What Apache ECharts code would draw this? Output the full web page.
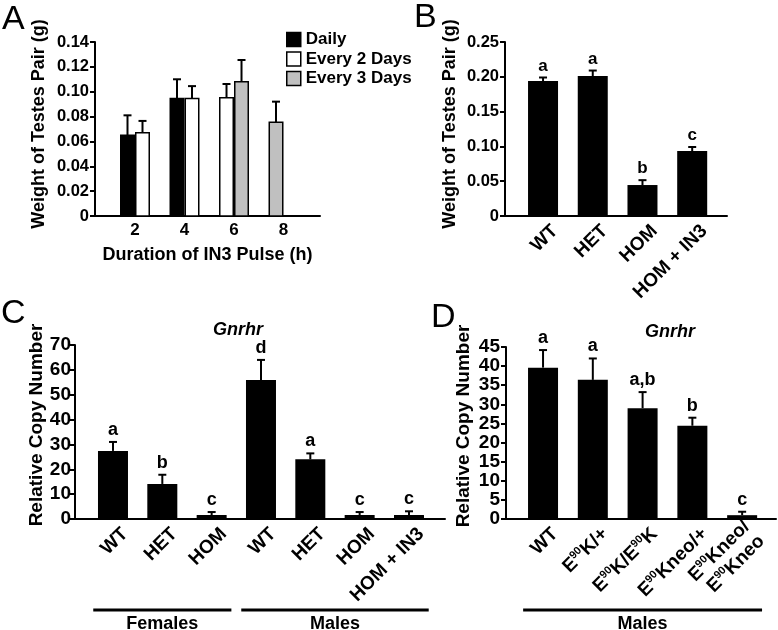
<!DOCTYPE html>
<html><head><meta charset="utf-8">
<script src="https://cdn.jsdelivr.net/npm/echarts@6/dist/echarts.min.js"></script>
<style>html,body{margin:0;padding:0;background:#fff}#c{width:778px;height:630px}</style>
</head><body><div id="c"></div>
<script>
// ---------- Panel A ----------
const aCategories = ['2', '4', '6', '8'];
const aSeriesNames = ['Daily', 'Every 2 Days', 'Every 3 Days'];
const aDaily = [0.065, 0.0945, null, null];
const aDailyErr = [0.016, 0.0155, null, null];
const aEvery2 = [0.067, 0.0945, 0.0952, null];
const aEvery2Err = [0.0095, 0.010, 0.011, null];
const aEvery3 = [null, null, 0.108, 0.0754];
const aEvery3Err = [null, null, 0.0175, 0.0166];
// ---------- Panel B ----------
const bCategories = ['WT', 'HET', 'HOM', 'HOM + IN3'];
const bValues = [0.194, 0.201, 0.0445, 0.0934];
const bErrors = [0.005, 0.008, 0.007, 0.0057];
const bLetters = ['a', 'a', 'b', 'c'];
// ---------- Panel C ----------
const cCategories = ['WT', 'HET', 'HOM', 'WT', 'HET', 'HOM', 'HOM + IN3'];
const cValues = [27.4, 14.1, 1.6, 55.9, 24.0, 1.6, 1.6];
const cErrors = [3.6, 3.7, 1.2, 8.1, 2.4, 1.2, 1.5];
const cLetters = ['a', 'b', 'c', 'd', 'a', 'c', 'c'];
const cGroups = [['Females', 0, 2], ['Males', 3, 6]];
// ---------- Panel D ----------
const dCategories = ['WT', 'E90K/+', 'E90K/E90K', 'E90Kneo/+', 'E90Kneo/\nE90Kneo'];
const dValues = [39.6, 36.4, 29.0, 24.4, 1.0];
const dErrors = [4.6, 5.6, 4.2, 2.1, 0.9];
const dLetters = ['a', 'a', 'a,b', 'b', 'c'];
const dGroups = [['Males', 0, 4]];

const FONT = "'Liberation Sans', Arial, Helvetica, sans-serif";
const chart = echarts.init(document.getElementById('c'), null, {renderer: 'canvas'});

const aSeriesVals = [aDaily, aEvery2, aEvery3];
const aSeriesErrs = [aDailyErr, aEvery2Err, aEvery3Err];
const aColors = ['#000000', '#ffffff', '#c0c0c0'];
const A_BAR_W = 15;

function yAxis(gridIndex, max, interval, decimals, fontSize, name, nameGap, namePad, margin) {
  return {
    type: 'value', gridIndex, min: 0, max, interval,
    name, nameLocation: 'middle', nameGap, nameRotate: 90,
    nameTextStyle: {fontFamily: FONT, fontWeight: 'bold', fontSize, color: '#000', padding: [0, 0, 0, namePad]},
    axisLine: {show: true, onZero: false, lineStyle: {color: '#000', width: 2}},
    axisTick: {show: true, length: 5, lineStyle: {color: '#000', width: 2}},
    splitLine: {show: false},
    axisLabel: {
      margin, color: '#000', fontFamily: FONT, fontWeight: 'bold', fontSize: fontSize === 19 ? 19 : 16.5,
      formatter: v => (v === 0 ? '0' : v.toFixed(decimals))
    }
  };
}

function rotatedX(gridIndex, min, max, cats, spacing, rich, fmt) {
  const shift = 12 / spacing;
  return {
    type: 'value', gridIndex, min, max,
    axisLine: {show: true, onZero: false, lineStyle: {color: '#000', width: 2}},
    axisTick: {show: false}, splitLine: {show: false},
    axisLabel: {
      customValues: cats.map((_, i) => i + shift),
      rotate: 45, margin: 12, color: '#000', fontFamily: FONT, fontWeight: 'bold', fontSize: 19,
      formatter: v => fmt(cats[Math.round(v - shift)]),
      rich: rich
    }
  };
}

function errRender(letters, capW, fontSize) {
  return function (params, api) {
    const i = api.value(0), v = api.value(1), e = api.value(2);
    const base = api.coord([i, v]);
    const top = api.coord([i, v + e]);
    const ch = [
      {type: 'line', shape: {x1: base[0], y1: base[1], x2: top[0], y2: top[1]}, style: {stroke: '#000', lineWidth: 2}},
      {type: 'line', shape: {x1: top[0] - capW / 2, y1: top[1], x2: top[0] + capW / 2, y2: top[1]}, style: {stroke: '#000', lineWidth: 2}}
    ];
    ch.push({type: 'text', x: top[0], y: top[1] - 3, style: {
      text: letters[params.dataIndex], fill: '#000', align: 'center', verticalAlign: 'bottom',
      font: 'bold ' + fontSize + 'px ' + FONT}});
    return {type: 'group', children: ch};
  };
}

// Panel A custom bars (data-driven positions through axis coords)
const aSeries = aSeriesNames.map((name, s) => {
  const data = [];
  aCategories.forEach((c, i) => {
    if (aSeriesVals[s][i] == null) return;
    let slot = 0;
    for (let k = 0; k < s; k++) if (aSeriesVals[k][i] != null) slot++;
    data.push([i, aSeriesVals[s][i], aSeriesErrs[s][i], slot]);
  });
  return {
    type: 'custom', name, xAxisIndex: 0, yAxisIndex: 0, data,
    itemStyle: {color: aColors[s], borderColor: '#000', borderWidth: 1.5},
    encode: {x: 0, y: 1},
    renderItem: function (params, api) {
      const i = api.value(0), v = api.value(1), e = api.value(2), slot = api.value(3);
      const c = api.coord([i, v]);
      const z = api.coord([i, 0]);
      const top = api.coord([i, v + e]);
      const left = c[0] - A_BAR_W + slot * A_BAR_W;
      const cx = left + A_BAR_W / 2;
      return {type: 'group', children: [
        {type: 'rect', shape: {x: left + 0.75, y: c[1], width: A_BAR_W - 1.5, height: z[1] - c[1]},
          style: {fill: aColors[s], stroke: '#000', lineWidth: 1.5}},
        {type: 'line', shape: {x1: cx, y1: c[1], x2: cx, y2: top[1]}, style: {stroke: '#000', lineWidth: 2}},
        {type: 'line', shape: {x1: cx - 4, y1: top[1], x2: cx + 4, y2: top[1]}, style: {stroke: '#000', lineWidth: 2}}
      ]};
    }
  };
});

const sup = s => s.split('\n').map(line => line.split('90').map(p => p ? '{n|' + p + '}' : '').join('{s|90}')).join('\n');
const dRich = {
  n: {fontFamily: FONT, fontWeight: 'bold', fontSize: 19, color: '#000', lineHeight: 21},
  s: {fontFamily: FONT, fontWeight: 'bold', fontSize: 11, color: '#000', lineHeight: 11, verticalAlign: 'top'}
};

const option = {
  animation: false,
  backgroundColor: '#fff',
  textStyle: {fontFamily: FONT},
  grid: [
    {left: 95, top: 42, width: 225, height: 174},
    {left: 505, top: 42, width: 222, height: 174},
    {left: 75, top: 345, width: 370, height: 174},
    {left: 506, top: 347, width: 270, height: 172}
  ],
  legend: {
    left: 286, top: 31, orient: 'vertical', icon: 'rect', itemWidth: 14, itemHeight: 14, itemGap: 2.5,
    padding: 0, selectedMode: false,
    textStyle: {fontFamily: FONT, fontWeight: 'bold', fontSize: 17, color: '#000', lineHeight: 17},
    data: aSeriesNames.map((n, s) => ({name: n, itemStyle: {color: aColors[s], borderColor: '#000', borderWidth: 1.5}}))
  },
  xAxis: [
    {
      type: 'value', gridIndex: 0, min: -0.808, max: 3.737,
      name: 'Duration of IN3 Pulse (h)', nameLocation: 'middle', nameGap: 30,
      nameTextStyle: {fontFamily: FONT, fontWeight: 'bold', fontSize: 18, color: '#000'},
      axisLine: {show: true, onZero: false, lineStyle: {color: '#000', width: 2}},
      axisTick: {show: false}, splitLine: {show: false},
      axisLabel: {customValues: aCategories.map((_, i) => i), margin: 6, color: '#000',
        fontFamily: FONT, fontWeight: 'bold', fontSize: 17, formatter: v => aCategories[Math.round(v)]}
    },
    rotatedX(1, -0.765, 3.70, bCategories, 49.7, null, s => s),
    rotatedX(2, -0.770, 6.73, cCategories, 49.33, null, s => s),
    rotatedX(3, -0.744, 4.68, dCategories, 49.75, dRich, sup)
  ],
  yAxis: [
    yAxis(0, 0.14, 0.02, 2, 18, 'Weight of Testes Pair (g)', 47, 10, 6),
    yAxis(1, 0.25, 0.05, 2, 18, 'Weight of Testes Pair (g)', 46, 10, 6),
    yAxis(2, 70, 10, 0, 19, 'Relative Copy Number', 28, 14, 4),
    yAxis(3, 45, 5, 0, 19, 'Relative Copy Number', 33, 14, 6)
  ],
  series: [
    ...aSeries,
    {type: 'bar', xAxisIndex: 1, yAxisIndex: 1, barWidth: 30, itemStyle: {color: '#000'},
      data: bValues.map((v, i) => [i, v])},
    {type: 'custom', xAxisIndex: 1, yAxisIndex: 1, renderItem: errRender(bLetters, 8, 17),
      data: bValues.map((v, i) => [i, v, bErrors[i]])},
    {type: 'bar', xAxisIndex: 2, yAxisIndex: 2, barWidth: 30, itemStyle: {color: '#000'},
      data: cValues.map((v, i) => [i, v])},
    {type: 'custom', xAxisIndex: 2, yAxisIndex: 2, renderItem: errRender(cLetters, 8, 18),
      data: cValues.map((v, i) => [i, v, cErrors[i]])},
    {type: 'bar', xAxisIndex: 3, yAxisIndex: 3, barWidth: 30, itemStyle: {color: '#000'},
      data: dValues.map((v, i) => [i, v])},
    {type: 'custom', xAxisIndex: 3, yAxisIndex: 3, renderItem: errRender(dLetters, 8, 18),
      data: dValues.map((v, i) => [i, v, dErrors[i]])}
  ]
};
chart.setOption(option);

// annotations: panel letters, gene titles, group brackets
const g = [];
const panelTxt = (t, x, y) => ({type: 'text', x, y, style: {text: t, fill: '#000', align: 'left', verticalAlign: 'middle', font: 'normal 34px ' + FONT}});
g.push(panelTxt('A', 2, 20), panelTxt('B', 414, 18), panelTxt('C', 1, 314), panelTxt('D', 431, 318));
const gene = (x, y) => ({type: 'text', x, y, style: {text: 'Gnrhr', fill: '#000', align: 'center', verticalAlign: 'middle', font: 'italic bold 18px ' + FONT}});
g.push(gene(238, 330), gene(670, 332));
function groups(list, axisIndex, spacing) {
  list.forEach(([name, a, b]) => {
    const x1 = chart.convertToPixel({xAxisIndex: axisIndex}, a) - 0.4 * spacing;
    const x2 = chart.convertToPixel({xAxisIndex: axisIndex}, b) + 0.4 * spacing;
    g.push({type: 'line', shape: {x1, y1: 610, x2, y2: 610}, style: {stroke: '#000', lineWidth: 3}});
    g.push({type: 'text', x: (x1 + x2) / 2, y: 624, style: {text: name, fill: '#000', align: 'center', verticalAlign: 'middle', font: 'bold 18px ' + FONT}});
  });
}
groups(cGroups, 2, 49.33);
groups(dGroups, 3, 49.75);
chart.setOption({graphic: g});
</script></body></html>
